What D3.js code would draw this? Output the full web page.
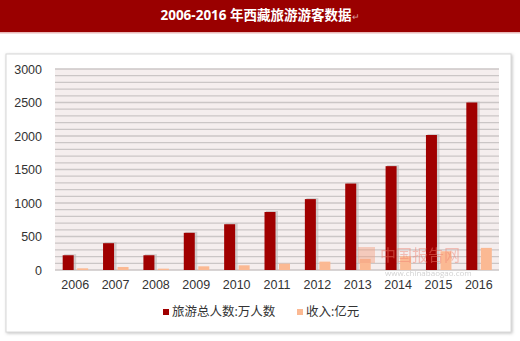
<!DOCTYPE html>
<html>
<head>
<meta charset="utf-8">
<script src="https://cdn.jsdelivr.net/npm/d3@7"></script>
<style>
  body { margin: 0; background: #fff; }
  svg { display: block; font-family: "Open Sans", "Noto Sans CJK SC", sans-serif; }
</style>
</head>
<body>
<div id="chart"></div>
<script>
var years = ["2006", "2007", "2008", "2009", "2010", "2011", "2012", "2013", "2014", "2015", "2016"];
var visitors = [220, 400, 220, 555, 683, 866, 1058, 1290, 1550, 2015, 2500];
var income = [25, 45, 20, 55, 70, 95, 125, 165, 205, 280, 330];
var yTicks = [0, 500, 1000, 1500, 2000, 2500, 3000];
var seriesNames = ["旅游总人数:万人数", "收入:亿元"];
var titleText = "2006-2016 年西藏旅游游客数据";

var W = 520, H = 341;
var svg = d3.select("#chart").append("svg").attr("width", W).attr("height", H);

var defs = svg.append("defs");
var f = defs.append("filter").attr("id", "shadow").attr("x", "-5%").attr("y", "-5%").attr("width", "110%").attr("height", "110%");
f.append("feDropShadow").attr("dx", 1).attr("dy", 1).attr("stdDeviation", 1.5).attr("flood-color", "#999").attr("flood-opacity", 0.6);

// title bar
svg.append("rect").attr("x", 0).attr("y", 0).attr("width", W).attr("height", 32).attr("fill", "#9a0000");
svg.append("rect").attr("x", 0).attr("y", 32).attr("width", W).attr("height", 1.5).attr("fill", "#e8b8b8");
svg.append("text")
    .attr("x", 260).attr("y", 20)
    .attr("text-anchor", "middle")
    .attr("fill", "#fff")
    .style("font-size", "13.5px")
    .style("font-weight", "bold")
    .text(titleText)
  .append("tspan")
    .attr("fill", "#d9a0a0")
    .style("font-size", "9px")
    .style("font-weight", "normal")
    .text("↵");

// chart box
svg.append("rect").attr("x", 6).attr("y", 54).attr("width", 505).attr("height", 278)
    .attr("fill", "#fff").attr("stroke", "#d8d8d8").attr("filter", "url(#shadow)");

var x0 = 55, x1 = 499, yTop = 69, yBase = 270;

var x = d3.scaleBand().domain(years).range([x0, x1]);
var y = d3.scaleLinear().domain([0, 3000]).range([yBase, yTop]);

// plot background and grid
var g = svg.append("g");
g.append("rect").attr("x", x0).attr("y", yTop).attr("width", x1 - x0).attr("height", yBase - yTop).attr("fill", "#f5eeee");
g.selectAll("line.grid")
  .data(d3.range(0, 3001, 100))
  .enter().append("line")
    .attr("class", "grid")
    .attr("x1", x0).attr("x2", x1)
    .attr("y1", function(d) { return y(d); })
    .attr("y2", function(d) { return y(d); })
    .attr("stroke", "#cbc6c6")
    .attr("stroke-width", 1.3);

// y axis labels
var yAxis = d3.axisLeft(y).tickValues(yTicks).tickFormat(d3.format("d")).tickSize(0).tickPadding(0);
var ya = svg.append("g").attr("transform", "translate(42,0)").call(yAxis);
ya.select(".domain").remove();
ya.selectAll("text").style("font-size", "12.5px").attr("fill", "#333").attr("dy", "0.35em");

// x axis labels
var xAxis = d3.axisBottom(x).tickSize(0).tickPadding(0);
var xa = svg.append("g").attr("transform", "translate(0," + 285 + ")").call(xAxis);
xa.select(".domain").remove();
xa.selectAll("text").style("font-size", "12.5px").attr("fill", "#333").attr("dy", "0.35em");

// bars
var bw = 11;
var data = years.map(function(d, i) { return { year: d, v: visitors[i], inc: income[i] }; });

g.selectAll("rect.sh")
  .data(data)
  .enter().append("rect")
    .attr("x", function(d) { return x(d.year) + x.bandwidth() / 2 - 12.5 + 1.5; })
    .attr("y", function(d) { return y(d.v) - 1; })
    .attr("width", bw + 1)
    .attr("height", function(d) { return yBase - y(d.v) + 1; })
    .attr("fill", "#bdb8b8").attr("opacity", 0.6);

g.selectAll("rect.v")
  .data(data)
  .enter().append("rect")
    .attr("class", "v")
    .attr("x", function(d) { return x(d.year) + x.bandwidth() / 2 - 12.5; })
    .attr("y", function(d) { return y(d.v); })
    .attr("width", bw)
    .attr("height", function(d) { return yBase - y(d.v); })
    .attr("fill", "#a00000");

g.selectAll("rect.inc")
  .data(data)
  .enter().append("rect")
    .attr("class", "inc")
    .attr("x", function(d) { return x(d.year) + x.bandwidth() / 2 + 2; })
    .attr("y", function(d) { return y(d.inc); })
    .attr("width", bw)
    .attr("height", function(d) { return yBase - y(d.inc); })
    .attr("fill", "#fbb993");

// watermark
var wm = svg.append("g").attr("opacity", 0.45);
wm.append("rect").attr("x", 358).attr("y", 247).attr("width", 17).attr("height", 16).attr("fill", "#f4a080");
wm.append("text").attr("x", 380).attr("y", 261).attr("fill", "#f08070")
    .style("font-size", "16px").text("中国报告网");
wm.append("text").attr("x", 385).attr("y", 276).attr("fill", "#999")
    .style("font-size", "8px").text("www.chinabaogao.com");

// legend
var legend = svg.append("g");
var lx = [163, 297], colors = ["#a00000", "#fbb993"];
seriesNames.forEach(function(n, i) {
  legend.append("rect").attr("x", lx[i]).attr("y", 309).attr("width", 6).attr("height", 6).attr("fill", colors[i]);
  legend.append("text").attr("x", lx[i] + 9).attr("y", 312).attr("dy", "0.35em")
      .style("font-size", "12.5px").attr("fill", "#333").text(n);
});
</script>
</body>
</html>
